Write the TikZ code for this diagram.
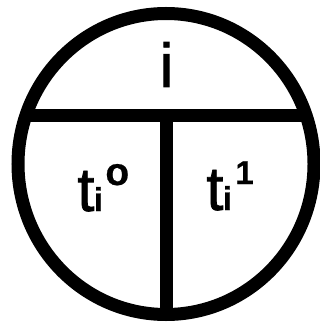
\documentclass[tikz,border=0pt]{standalone}
\usepackage{fontspec}
\setmainfont{Liberation Sans}
\newfontfamily\mainbig[FakeBold=1.2]{Liberation Sans}
\newfontfamily\supfont[FakeBold=0.6]{Liberation Sans Bold}
\begin{document}
\begin{tikzpicture}[x=1pt,y=-1pt,
  bar/.style={line width=13pt,black},
  big/.style={inner sep=0pt,font=\mainbig\fontsize{62}{62}\selectfont,anchor=base},
  small/.style={inner sep=0pt,font=\supfont\fontsize{33}{33}\selectfont,anchor=base west}]
\useasboundingbox (0,0) rectangle (320,323);
\coordinate (c) at (166,164);
\begin{scope}
  \clip (c) ellipse [x radius=148pt, y radius=150.5pt];
  \draw[bar] (0,116) -- (330,116);
  \draw[bar] (166.5,116) -- (166.5,330);
\end{scope}
\draw[bar] (c) ellipse [x radius=148pt, y radius=150.5pt];
\node[big] (i) at (166.5,87) {i};
\node[big,anchor=base west] (tl) at (77,211) {t};
\node[small] (sl) at ([xshift=-1pt]tl.base east) {i};
\node[small,font=\supfont\fontsize{39}{39}\selectfont] (ol) at ([xshift=2pt]sl.base east|-0,185) {o};
\node[big,anchor=base west] (tr) at (206,210) {t};
\node[small] (sr) at ([xshift=-1pt]tr.base east) {i};
\node[small] (or) at ([xshift=3pt]sr.base east|-0,184) {1};
\end{tikzpicture}
\end{document}
